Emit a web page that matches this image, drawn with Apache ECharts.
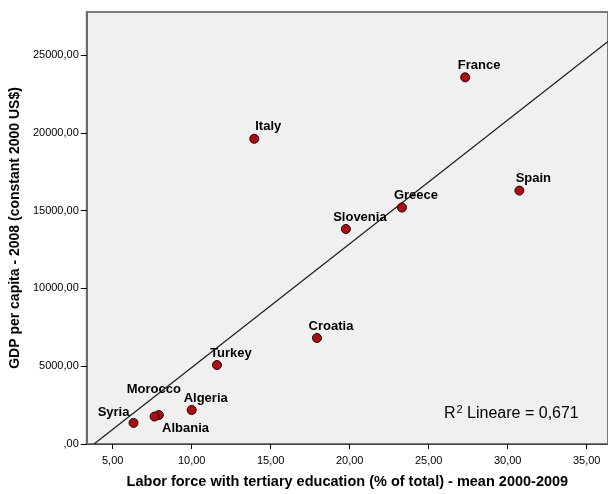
<!DOCTYPE html>
<html>
<head>
<meta charset="utf-8">
<script src="https://cdn.jsdelivr.net/npm/echarts@6/dist/echarts.min.js"></script>
<style>
  html, body { margin: 0; padding: 0; background: #fff; }
  #main { width: 608px; height: 494px; }
</style>
</head>
<body>
<div id="main"></div>
<script>
// countries and their values
var countries = ['France', 'Spain', 'Greece', 'Slovenia', 'Italy', 'Croatia', 'Turkey', 'Algeria', 'Morocco', 'Albania', 'Syria'];
var tertiaryEdu = [27.31, 30.74, 23.31, 19.76, 13.96, 17.93, 11.60, 10.00, 7.92, 7.65, 6.32];
var gdpPerCapita = [23570, 16290, 15200, 13820, 19620, 6815, 5075, 2185, 1865, 1765, 1355];

// fitted line, two ends
var fitX = [3.82, 36.35];
var fitY = [0, 25880];

var xTicks = [5, 10, 15, 20, 25, 30, 35];
var yTicks = [0, 5000, 10000, 15000, 20000, 25000];

// label placement around each point (dx, dy from point centre)
var labelShift = {
  Morocco: [-5, -26],
  Syria: [-20, -10],
  Albania: [31, 12]
};

function fmt(v) {
  if (v === 0) return ',00';
  return v.toFixed(2).replace('.', ',');
}

var pts = countries.map(function (c, i) {
  var off = labelShift[c] || [14, -12];
  return {
    name: c,
    value: [tertiaryEdu[i], gdpPerCapita[i]],
    label: { offset: off }
  };
});

var chart = echarts.init(document.getElementById('main'));
chart.setOption({
  animation: false,
  backgroundColor: '#ffffff',
  grid: {
    left: 84, top: 12, right: -2, bottom: 46,
    show: true,
    backgroundColor: '#f0f0f0',
    borderColor: '#7a7a7a',
    borderWidth: 2
  },
  xAxis: {
    type: 'value',
    min: 3.36,
    max: 36.35,
    name: 'Labor force with tertiary education (% of total) - mean 2000-2009',
    nameLocation: 'middle',
    nameGap: 30,
    nameTextStyle: { fontFamily: 'Liberation Sans', fontSize: 14.5, fontWeight: 'bold', color: '#000' },
    axisLine: { lineStyle: { color: '#444', width: 1 } },
    axisTick: { show: true, length: 5, customValues: xTicks, lineStyle: { color: '#000' } },
    axisLabel: {
      customValues: xTicks,
      formatter: fmt,
      margin: 11,
      fontFamily: 'Liberation Sans', fontSize: 11, color: '#000'
    },
    splitLine: { show: false }
  },
  yAxis: {
    type: 'value',
    min: 0,
    max: 27770,
    name: 'GDP per capita - 2008 (constant 2000 US$)',
    nameLocation: 'middle',
    nameGap: 55,
    nameTextStyle: { fontFamily: 'Liberation Sans', fontSize: 14, fontWeight: 'bold', color: '#000' },
    axisLine: { show: true, lineStyle: { color: '#6a6a6a', width: 2 } },
    axisTick: { show: true, length: 6, customValues: yTicks, lineStyle: { color: '#000' } },
    axisLabel: {
      customValues: yTicks,
      formatter: fmt,
      margin: 8,
      fontFamily: 'Liberation Sans', fontSize: 11, color: '#000'
    },
    splitLine: { show: false }
  },
  series: [
    {
      type: 'line',
      data: fitX.map(function (x, i) { return [x, fitY[i]]; }),
      showSymbol: false,
      silent: true,
      lineStyle: { color: '#1a1a1a', width: 1.2 },
      z: 2
    },
    {
      type: 'scatter',
      data: pts,
      symbolSize: 9,
      itemStyle: { color: '#a80f14', borderColor: '#2a0000', borderWidth: 1, opacity: 1 },
      label: {
        show: true,
        position: 'inside',
        formatter: '{b}',
        fontFamily: 'Liberation Sans',
        fontSize: 13,
        fontWeight: 'bold',
        color: '#000',
        textBorderWidth: 0
      },
      z: 3
    }
  ],
  graphic: [{
    type: 'text',
    left: 444,
    top: 404,
    style: {
      text: '{a|R}{s|2}{a| Lineare = 0,671}',
      rich: {
        a: { fontFamily: 'Liberation Sans', fontSize: 16, color: '#000', verticalAlign: 'bottom' },
        s: { fontFamily: 'Liberation Sans', fontSize: 11, color: '#000', verticalAlign: 'top', padding: [0, 0, 7, 1] }
      }
    }
  }]
});
</script>
</body>
</html>
